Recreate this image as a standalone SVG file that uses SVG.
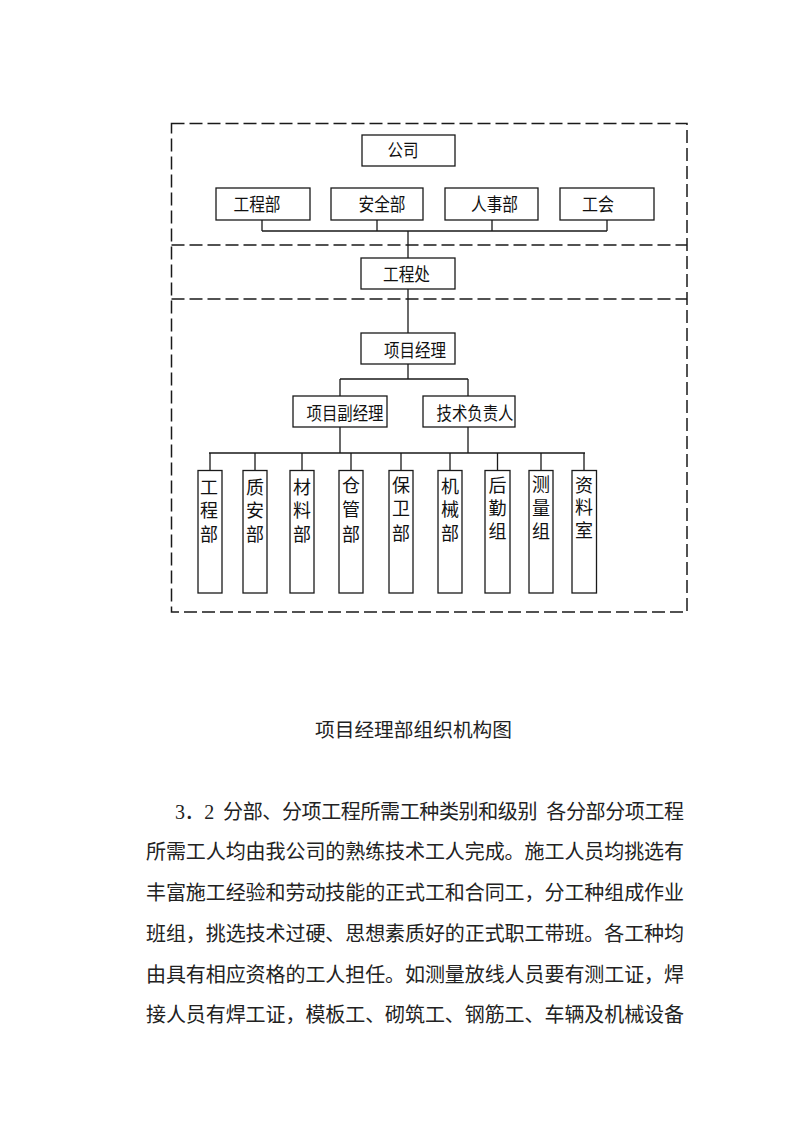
<svg xmlns="http://www.w3.org/2000/svg" width="794" height="1123" viewBox="0 0 794 1123">
<style>
.frame{fill:none;stroke:#1a1a1a;stroke-width:1.5;stroke-dasharray:13 5}
.box{fill:#fff;stroke:#1a1a1a;stroke-width:1.3}
.conn{fill:none;stroke:#1a1a1a;stroke-width:1.3}
.nt{font-family:"Liberation Sans","Noto Sans CJK SC",sans-serif;font-size:18px;fill:#111;text-anchor:middle}
.vt{font-family:"Liberation Sans","Noto Sans CJK SC",sans-serif;font-size:18px;fill:#111;text-anchor:middle}
.body{font-family:"Liberation Serif","Noto Sans CJK SC",serif;font-size:20px;fill:#222}
</style>
<rect width="794" height="1123" fill="#fff"/>
<g id="frames">
<rect class="frame" x="171.5" y="123.5" width="515.5" height="488.5"/>
<line class="frame" x1="171.5" y1="245" x2="687" y2="245"/>
<line class="frame" x1="171.5" y1="299" x2="687" y2="299"/>
</g>
<g id="connectors">
<path class="conn" d="M262 220V231M377 220V231M492 220V231M607 220V231M262 231H607M408 231V258"/>
<path class="conn" d="M408 289V333"/>
<path class="conn" d="M408 364V379M340 379H468M340 379V396M468 379V396"/>
<path class="conn" d="M340 427V453M468 427V453M209 453H585"/>
<path class="conn" d="M210 453V470.5M255 453V470.5M302 453V470.5M351 453V470.5M401 453V470.5M450 453V470.5M497.5 453V470.5M541 453V470.5M584 453V470.5"/>
</g>
<g id="n-gongsi"><rect class="box" x="362" y="135" width="93" height="31"/><text class="nt" x="403" y="156.5" textLength="31" lengthAdjust="spacingAndGlyphs">公司</text></g>
<g id="n-gongchengbu"><rect class="box" x="216" y="188" width="94" height="32"/><text class="nt" x="257" y="211" textLength="47" lengthAdjust="spacingAndGlyphs">工程部</text></g>
<g id="n-anquanbu"><rect class="box" x="331" y="188" width="92" height="32"/><text class="nt" x="382" y="211" textLength="47" lengthAdjust="spacingAndGlyphs">安全部</text></g>
<g id="n-renshibu"><rect class="box" x="445" y="188" width="93" height="32"/><text class="nt" x="494.5" y="211" textLength="47" lengthAdjust="spacingAndGlyphs">人事部</text></g>
<g id="n-gonghui"><rect class="box" x="560" y="188" width="94" height="32"/><text class="nt" x="598" y="211" textLength="32" lengthAdjust="spacingAndGlyphs">工会</text></g>
<g id="n-gongchengchu"><rect class="box" x="361" y="258" width="94" height="31"/><text class="nt" x="406.5" y="280.5" textLength="47" lengthAdjust="spacingAndGlyphs">工程处</text></g>
<g id="n-xiangmujingli"><rect class="box" x="361" y="333" width="94" height="31"/><text class="nt" x="415" y="357" textLength="62" lengthAdjust="spacingAndGlyphs">项目经理</text></g>
<g id="n-fujingli"><rect class="box" x="293" y="396" width="94" height="31"/><text class="nt" x="345" y="419.5" textLength="77" lengthAdjust="spacingAndGlyphs">项目副经理</text></g>
<g id="n-jishu"><rect class="box" x="423" y="396" width="92" height="31"/><text class="nt" x="475" y="419.5" textLength="77" lengthAdjust="spacingAndGlyphs">技术负责人</text></g>
<g id="n-v1"><rect class="box" x="198" y="470.5" width="24" height="122.5"/><text class="vt" x="209" y="494">工</text><text class="vt" x="209" y="517">程</text><text class="vt" x="209" y="541">部</text></g>
<g id="n-v2"><rect class="box" x="243" y="470.5" width="24" height="122.5"/><text class="vt" x="255" y="494">质</text><text class="vt" x="255" y="517">安</text><text class="vt" x="255" y="541">部</text></g>
<g id="n-v3"><rect class="box" x="290" y="470.5" width="24" height="122.5"/><text class="vt" x="302" y="494">材</text><text class="vt" x="302" y="517">料</text><text class="vt" x="302" y="541">部</text></g>
<g id="n-v4"><rect class="box" x="339" y="470.5" width="24" height="122.5"/><text class="vt" x="351" y="492">仓</text><text class="vt" x="351" y="516">管</text><text class="vt" x="351" y="541">部</text></g>
<g id="n-v5"><rect class="box" x="389" y="470.5" width="24" height="122.5"/><text class="vt" x="401" y="492">保</text><text class="vt" x="401" y="515">卫</text><text class="vt" x="401" y="540">部</text></g>
<g id="n-v6"><rect class="box" x="438" y="470.5" width="24" height="122.5"/><text class="vt" x="450" y="493">机</text><text class="vt" x="450" y="516">械</text><text class="vt" x="450" y="540">部</text></g>
<g id="n-v7"><rect class="box" x="485" y="470.5" width="25" height="122.5"/><text class="vt" x="497.5" y="492">后</text><text class="vt" x="497.5" y="515">勤</text><text class="vt" x="497.5" y="538">组</text></g>
<g id="n-v8"><rect class="box" x="529" y="470.5" width="24" height="122.5"/><text class="vt" x="541" y="491">测</text><text class="vt" x="541" y="515">量</text><text class="vt" x="541" y="538">组</text></g>
<g id="n-v9"><rect class="box" x="572" y="470.5" width="24.5" height="122.5"/><text class="vt" x="584" y="492">资</text><text class="vt" x="584" y="514">料</text><text class="vt" x="584" y="537">室</text></g>
<g id="caption"><text class="body" x="315" y="737" textLength="197" lengthAdjust="spacingAndGlyphs" style="font-size:19px">项目经理部组织机构图</text></g>
<g id="paragraph">
<text class="body" x="175" y="819" textLength="509" lengthAdjust="spacing">3．2&#160;&#160;分部、分项工程所需工种类别和级别&#160;&#160;各分部分项工程</text>
<text class="body" x="146" y="859" textLength="538" lengthAdjust="spacing">所需工人均由我公司的熟练技术工人完成。施工人员均挑选有</text>
<text class="body" x="146" y="900" textLength="538" lengthAdjust="spacing">丰富施工经验和劳动技能的正式工和合同工，分工种组成作业</text>
<text class="body" x="146" y="941" textLength="538" lengthAdjust="spacing">班组，挑选技术过硬、思想素质好的正式职工带班。各工种均</text>
<text class="body" x="146" y="982" textLength="538" lengthAdjust="spacing">由具有相应资格的工人担任。如测量放线人员要有测工证，焊</text>
<text class="body" x="146" y="1022" textLength="538" lengthAdjust="spacing">接人员有焊工证，模板工、砌筑工、钢筋工、车辆及机械设备</text>
</g>
</svg>
